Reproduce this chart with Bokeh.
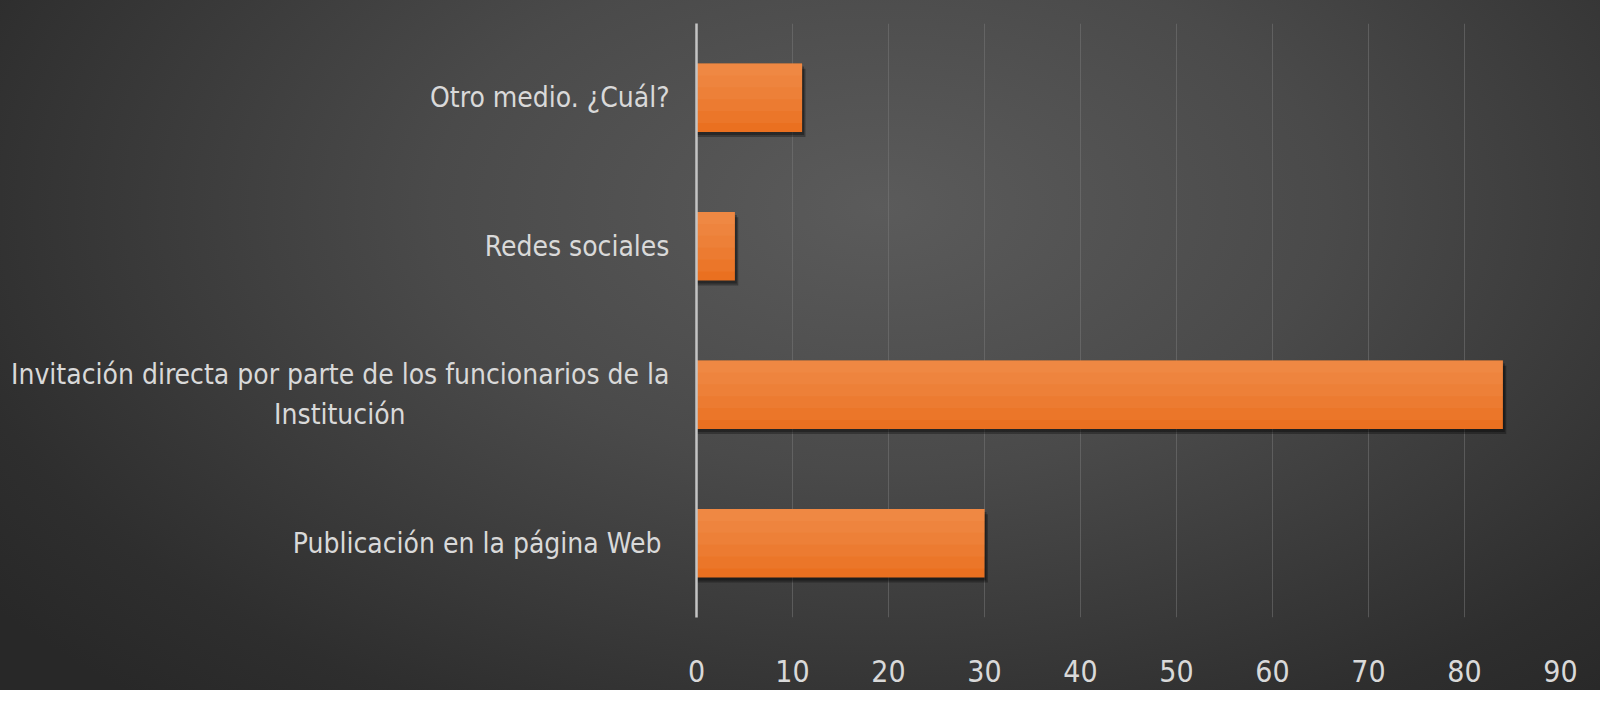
from bokeh.plotting import figure
from bokeh.models import FactorRange, Range1d, InlineStyleSheet, ColumnDataSource, FixedTicker
from bokeh.transform import dodge
from bokeh.embed import file_html
from bokeh.resources import INLINE

# ---- data ----
categories = [
    "Publicación en la página Web ",
    "Invitación directa por parte de los funcionarios de la\nInstitución" + " " * 33,
    "Redes sociales",
    "Otro medio. ¿Cuál?",
]
values = [30, 84, 4, 11]
x_ticks = [0, 10, 20, 30, 40, 50, 60, 70, 80, 90]

FONT = "'Liberation Sans Narrow', 'DejaVu Sans Condensed', sans-serif"
TEXT_COLOR = "#d9d9d9"

source = ColumnDataSource(data=dict(cat=categories, val=values))

p = figure(
    width=1600, height=690,
    y_range=FactorRange(*categories, range_padding=0),
    x_range=Range1d(0, 90),
    output_backend="svg", toolbar_location=None,
    min_border_left=696, min_border_right=40,
    min_border_top=23, min_border_bottom=73,
)
p.stylesheets = [InlineStyleSheet(css=""":host {
  background: radial-gradient(ellipse 70% 95% at 55% 30%, #5b5b5b 0%, #4a4a4a 40%, #2e2e2e 85%, #282828 100%);
}""")]
p.border_fill_alpha = 0
p.background_fill_alpha = 0
p.outline_line_color = None

# grid
p.ygrid.grid_line_color = None
p.xgrid.grid_line_color = "#7a7a7a"
p.xgrid.grid_line_alpha = 0.5
p.xgrid.grid_line_width = 1
p.xaxis.ticker = FixedTicker(ticks=x_ticks)

# axes
for ax in (p.xaxis[0], p.yaxis[0]):
    ax.major_tick_line_color = None
    ax.minor_tick_line_color = None
    ax.major_label_text_color = TEXT_COLOR
    ax.major_label_text_font = FONT
p.xaxis.axis_line_color = None
p.xaxis.major_label_text_font_size = "30px"
p.xaxis.major_label_standoff = 36
p.yaxis.axis_line_color = "#c4c4c4"
p.yaxis.axis_line_width = 2.5
p.yaxis.major_label_text_font_size = "28px"
p.yaxis.major_label_standoff = 21

# shadow
p.hbar(y=dodge("cat", -0.035, range=p.y_range), left=0, right=dodge("val", 0.35),
       height=0.46, source=source, fill_color="black", fill_alpha=0.3, line_color=None)
p.hbar(y=dodge("cat", -0.02, range=p.y_range), left=0, right=dodge("val", 0.2),
       height=0.46, source=source, fill_color="black", fill_alpha=0.3, line_color=None)
# bars
p.hbar(y="cat", left=0, right="val", height=0.46, source=source,
       fill_color="#EA7020", line_color=None)
# overlays anchored at the bar top to imitate the vertical gradient
for h in (0.40, 0.32, 0.24, 0.16, 0.08):
    p.hbar(y=dodge("cat", 0.23 - h / 2, range=p.y_range), left=0, right="val", height=h,
           source=source, fill_color="#F8A46A", fill_alpha=0.12, line_color=None)

open("out.html", "w").write(file_html(p, INLINE))
